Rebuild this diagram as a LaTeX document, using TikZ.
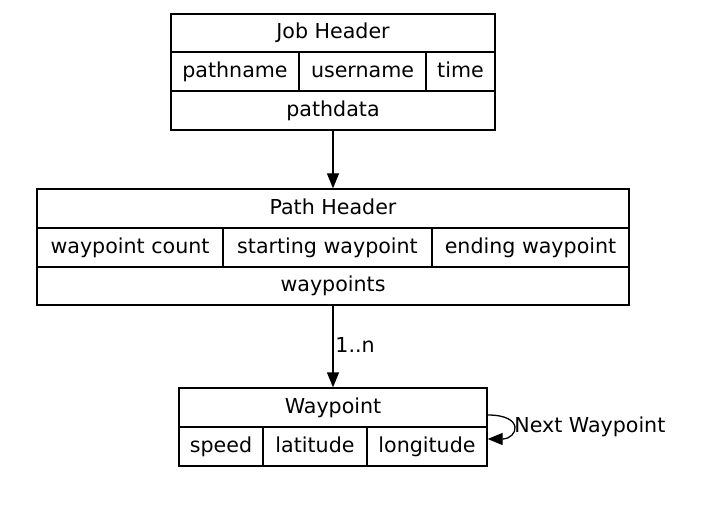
\documentclass[tikz,border=0pt]{standalone}
\usepackage{fontspec}
\setmainfont{DejaVu Sans}
\usetikzlibrary{arrows.meta,fit,calc}
\tikzset{
  rec/.style={draw, line width=0.65pt, inner sep=0pt, fit=#1},
  txt/.style={inner sep=0pt, text height=0.75em, text depth=0.15em, font=\fontsize{10.3}{12}\selectfont},
  lbl/.style={inner sep=0pt, anchor=west, text height=0.75em, text depth=0.15em, font=\fontsize{10.3}{12}\selectfont},
  sep/.style={line width=0.65pt},
  conn/.style={line width=0.65pt, -{Triangle[length=7.5pt,width=6pt]}}
}
\begin{document}
\begin{tikzpicture}[x=0.5pt,y=-0.5pt]
\useasboundingbox (0,0) rectangle (724,524);
% Job Header
\coordinate (j1) at (171,14); \coordinate (j2) at (495,130);
\node[rec={(j1)(j2)}] (job) {};
\draw[sep] (171,52) -- (495,52) (171,91) -- (495,91) (299,52) -- (299,91) (426,52) -- (426,91);
\node[txt] (jh) at (333,33) {Job Header};
\node[txt] (jpn) at (235,71.5) {pathname};
\node[txt] (jun) at (362.5,71.5) {username};
\node[txt] (jt) at (460.5,71.5) {time};
\node[txt] (jpd) at (333,110.5) {pathdata};
% Path Header
\coordinate (p1) at (37,189); \coordinate (p2) at (629,305);
\node[rec={(p1)(p2)}] (path) {};
\draw[sep] (37,228) -- (629,228) (37,267) -- (629,267) (223,228) -- (223,267) (432,228) -- (432,267);
\node[txt] (ph) at (333,208.5) {Path Header};
\node[txt] (pwc) at (130,247.5) {waypoint count};
\node[txt] (psw) at (327.5,247.5) {starting waypoint};
\node[txt] (pew) at (530.5,247.5) {ending waypoint};
\node[txt] (pws) at (333,286) {waypoints};
% Waypoint
\coordinate (w1) at (179,388); \coordinate (w2) at (487,466);
\node[rec={(w1)(w2)}] (wp) {};
\draw[sep] (179,427) -- (487,427) (263,427) -- (263,466) (367,427) -- (367,466);
\node[txt] (wh) at (333,407.5) {Waypoint};
\node[txt] (wsp) at (221,446.5) {speed};
\node[txt] (wla) at (315,446.5) {latitude};
\node[txt] (wlo) at (427,446.5) {longitude};
% connectors
\draw[conn] (job.south) -- (path.north);
\draw[conn] (path.south) -- (wp.north);
\node[lbl] (l1) at (335,346) {1..n};
\coordinate (ls) at ($(wp.east)+(0,-12)$);
\coordinate (le) at ($(wp.east)+(0,12)$);
\draw[conn] (ls) .. controls ($(wp.east)+(38,-12)$) and ($(wp.east)+(30,12)$) .. (le);
\node[lbl] (l2) at (514,426) {Next Waypoint};
\end{tikzpicture}
\end{document}
